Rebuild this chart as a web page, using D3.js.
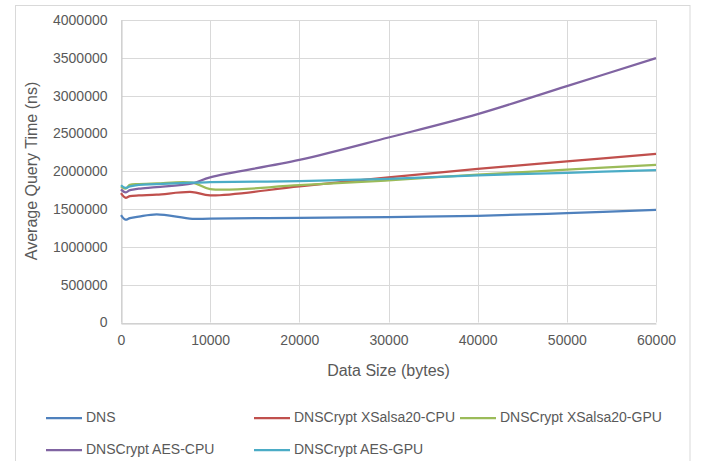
<!DOCTYPE html>
<html><head><meta charset="utf-8">
<script src="https://cdn.jsdelivr.net/npm/d3@7"></script>
<style>body{margin:0;background:#fff}svg{display:block}text{font-family:"Liberation Sans",Arial,sans-serif;fill:#595959}</style>
</head><body>
<svg id="chart" width="702" height="461"></svg>
<script>
const dataSizes = [0, 500, 1000, 2000, 4000, 8000, 10000, 20000, 30000, 40000, 50000, 60000];
const seriesNames = ["DNS", "DNSCrypt XSalsa20-CPU", "DNSCrypt XSalsa20-GPU", "DNSCrypt AES-CPU", "DNSCrypt AES-GPU"];
const dnsValues      = [1420000, 1360000, 1380000, 1400000, 1430000, 1370000, 1375000, 1385000, 1395000, 1410000, 1445000, 1488000];
const xsalsaCpuValues= [1710000, 1650000, 1670000, 1680000, 1690000, 1725000, 1680000, 1800000, 1920000, 2030000, 2130000, 2230000];
const xsalsaGpuValues= [1800000, 1770000, 1820000, 1830000, 1840000, 1850000, 1765000, 1815000, 1880000, 1955000, 2020000, 2085000];
const aesCpuValues   = [1760000, 1720000, 1750000, 1770000, 1790000, 1840000, 1920000, 2150000, 2446000, 2755000, 3126000, 3495000];
const aesGpuValues   = [1815000, 1780000, 1800000, 1820000, 1830000, 1850000, 1855000, 1870000, 1900000, 1945000, 1980000, 2015000];
const seriesColors = ["#4F81BD", "#C0504D", "#9BBB59", "#8064A2", "#4BACC6"];
const xTicks = [0, 10000, 20000, 30000, 40000, 50000, 60000];
const yTicks = [0, 500000, 1000000, 1500000, 2000000, 2500000, 3000000, 3500000, 4000000];
const xTitle = "Data Size (bytes)";
const yTitle = "Average Query Time (ns)";

const allValues = [dnsValues, xsalsaCpuValues, xsalsaGpuValues, aesCpuValues, aesGpuValues];
const svg = d3.select("#chart");

// chart border
svg.append("rect").attr("x",15.5).attr("y",5.5).attr("width",674.5).attr("height",470)
  .attr("fill","none").attr("stroke","#d9d9d9").attr("stroke-width",1);

const x = d3.scaleLinear().domain([0, 60000]).range([121, 656]);
const y = d3.scaleLinear().domain([0, 4000000]).range([322.5, 20]);

// gridlines
const g = svg.append("g");
g.selectAll(".hg").data(yTicks).join("line")
  .attr("x1", x(0)).attr("x2", x(60000))
  .attr("y1", d => Math.round(y(d))+0.5).attr("y2", d => Math.round(y(d))+0.5)
  .attr("stroke", "#d9d9d9").attr("stroke-width", 1);
g.selectAll(".vg").data(xTicks).join("line")
  .attr("y1", y(0)).attr("y2", y(4000000))
  .attr("x1", d => Math.round(x(d))+0.5).attr("x2", d => Math.round(x(d))+0.5)
  .attr("stroke", "#d9d9d9").attr("stroke-width", 1);

// axes
const xAxis = d3.axisBottom(x).tickValues(xTicks).tickSize(0).tickPadding(12).tickFormat(d3.format("d"));
const yAxis = d3.axisLeft(y).tickValues(yTicks).tickSize(0).tickPadding(14).tickFormat(d3.format("d"));
const xa = svg.append("g").attr("transform", `translate(0,${Math.round(y(0))+0.5})`).call(xAxis);
const ya = svg.append("g").attr("transform", `translate(${Math.round(x(0))+0.5},0)`).call(yAxis);
[xa, ya].forEach(a => {
  a.select(".domain").attr("stroke", "#c8c8c8");
  a.selectAll("text").attr("font-size", 14).attr("fill", "#595959").attr("font-family", '"Liberation Sans",Arial,sans-serif');
});

// lines
const line = d3.line().x((d,i) => x(dataSizes[i])).y(d => y(d)).curve(d3.curveCatmullRom.alpha(0.5));
svg.append("g").selectAll("path").data(allValues).join("path")
  .attr("d", d => line(d))
  .attr("fill", "none")
  .attr("stroke", (d,i) => seriesColors[i])
  .attr("stroke-width", 2.25)
  .attr("stroke-linejoin", "round");

// axis titles
svg.append("text").attr("x", 388.5).attr("y", 372).attr("text-anchor","middle")
  .attr("dominant-baseline","middle").attr("font-size",16).text(xTitle);
svg.append("text").attr("transform","translate(33,171) rotate(-90)").attr("text-anchor","middle")
  .attr("dominant-baseline","middle").attr("font-size",16).text(yTitle);

// legend
const legendPos = [[46,418],[254,418],[460,418],[46,450],[254,450]];
const lg = svg.append("g").selectAll("g").data(seriesNames).join("g")
  .attr("transform", (d,i) => `translate(${legendPos[i][0]},${legendPos[i][1]})`);
lg.append("line").attr("x1",0).attr("x2",36).attr("y1",0).attr("y2",0)
  .attr("stroke", (d,i) => seriesColors[i]).attr("stroke-width", 2.25);
lg.append("text").attr("x",40).attr("y",0).attr("dominant-baseline","middle")
  .attr("font-size",14).text(d => d);
</script>
</body></html>
